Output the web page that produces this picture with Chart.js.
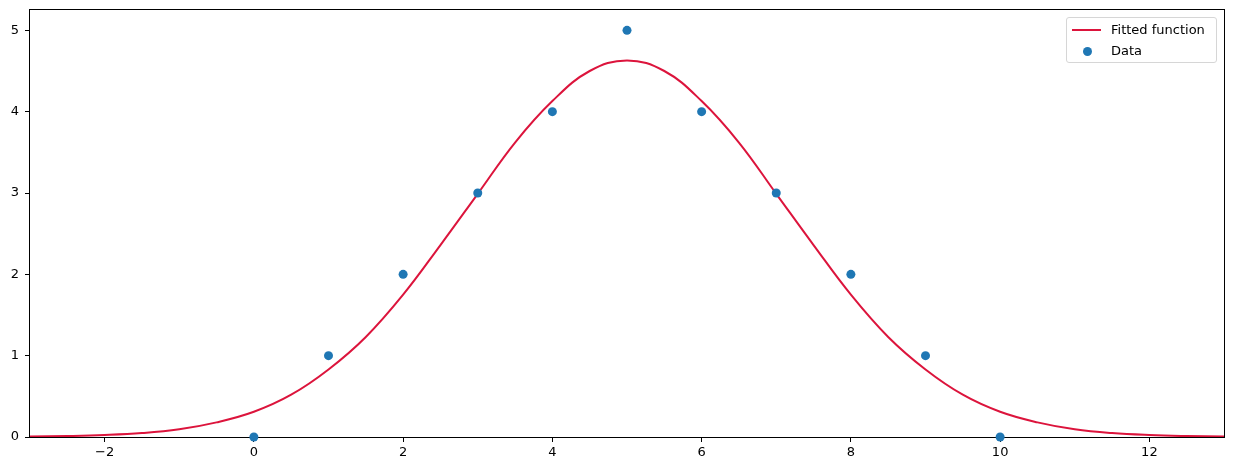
<!DOCTYPE html>
<html>
<head>
<meta charset="utf-8">
<title>Fitted function</title>
<script src="https://cdn.jsdelivr.net/npm/chart.js@4.4.1/dist/chart.umd.min.js"></script>
<style>
    html, body { margin: 0; padding: 0; background: #fff; }
    #wrap { position: relative; width: 1238px; height: 469px; }
    #legend {
        position: absolute; left: 1066px; top: 17px; width: 149px; height: 44px;
        border: 1px solid #d6d6d6; border-radius: 3px; background: rgba(255,255,255,0.8);
        font-family: "DejaVu Sans", sans-serif; font-size: 13px; color: #000;
    }
    .item { position: absolute; left: 0; height: 20px; line-height: 20px; }
    .item span { position: absolute; left: 44px; white-space: nowrap; }
    .swatch-line { position: absolute; left: 5px; top: 9px; width: 29px; height: 2px; }
    .swatch-dot { position: absolute; left: 16px; top: 6px; width: 9px; height: 9px; border-radius: 50%; }
</style>
</head>
<body>
<div id="wrap">
    <canvas id="fitChart" width="1238" height="469"></canvas>
    <div id="legend"></div>
</div>
<script>
// Observed data points
const dataX = [0, 1, 2, 3, 4, 5, 6, 7, 8, 9, 10];
const dataY = [0, 1, 2, 3, 4, 5, 4, 3, 2, 1, 0];

// Fitted curve, every half unit
const fitX = [-3, -2.5, -2, -1.5, -1, -0.5, 0, 0.5, 1, 1.5, 2, 2.5, 3, 3.5, 4, 4.5, 5,
              5.5, 6, 6.5, 7, 7.5, 8, 8.5, 9, 9.5, 10, 10.5, 11, 11.5, 12, 12.5, 13];
const fitY = [0.006, 0.012, 0.024, 0.048, 0.095, 0.18, 0.31, 0.52, 0.83, 1.23, 1.75, 2.36, 2.99, 3.62, 4.13, 4.5, 4.63,
              4.5, 4.13, 3.62, 2.99, 2.36, 1.75, 1.23, 0.83, 0.52, 0.31, 0.18, 0.095, 0.048, 0.024, 0.012, 0.006];

// Axis ticks
const xTicks = [-2, 0, 2, 4, 6, 8, 10, 12];
const yTicks = [0, 1, 2, 3, 4, 5];

const lineColor = '#dc143c';
const dotColor = '#1f77b4';
const tickFont = { family: 'DejaVu Sans', size: 13 };

function toPoints(xs, ys) {
    return xs.map((x, i) => ({ x: x, y: ys[i] }));
}

// Draw the full box around the plot area, like matplotlib spines
const framePlugin = {
    id: 'frame',
    beforeDatasetsDraw(chart) {
        const a = chart.chartArea;
        const ctx = chart.ctx;
        ctx.save();
        ctx.strokeStyle = '#000';
        ctx.lineWidth = 1;
        ctx.strokeRect(Math.round(a.left) - 0.5, Math.round(a.top) - 0.5,
                       Math.round(a.right - a.left) + 1, Math.round(a.bottom - a.top) + 1);
        ctx.restore();
    }
};

const minus = v => String(v).replace('-', '\u2212');

// Keep the plot area where the reference has it
function noPad(s) {
    s.paddingTop = 0;
    s.paddingBottom = 0;
    s.paddingLeft = 0;
    s.paddingRight = 0;
}

const chart = new Chart(document.getElementById('fitChart'), {
    type: 'scatter',
    data: {
        datasets: [
            {
                label: 'Fitted function',
                type: 'line',
                data: toPoints(fitX, fitY),
                borderColor: lineColor,
                borderWidth: 2,
                pointRadius: 0,
                fill: false,
                tension: 0.4,
                order: 2
            },
            {
                label: 'Data',
                data: toPoints(dataX, dataY),
                backgroundColor: dotColor,
                borderColor: dotColor,
                pointRadius: 4.5,
                borderWidth: 0,
                clip: false,
                order: 1
            }
        ]
    },
    options: {
        responsive: false,
        animation: false,
        layout: { padding: { top: 10, right: 14, left: 0, bottom: 0 } },
        plugins: {
            legend: { display: false },
            tooltip: { enabled: false }
        },
        scales: {
            x: {
                type: 'linear',
                min: -3,
                max: 13,
                afterBuildTicks: s => { s.ticks = xTicks.map(v => ({ value: v })); },
                afterFit: s => { s.height = 32; noPad(s); },
                border: { display: false },
                grid: { drawOnChartArea: false, tickLength: 5, color: '#000', tickColor: '#000' },
                ticks: { color: '#000', font: tickFont, padding: 3, maxRotation: 0, callback: v => minus(v) }
            },
            y: {
                type: 'linear',
                min: 0,
                max: 5.25,
                afterBuildTicks: s => { s.ticks = yTicks.map(v => ({ value: v })); },
                afterFit: s => { s.width = 30; noPad(s); },
                border: { display: false },
                grid: { drawOnChartArea: false, tickLength: 5, color: '#000', tickColor: '#000' },
                ticks: { color: '#000', font: tickFont, padding: 6, callback: v => minus(v) }
            }
        }
    },
    plugins: [framePlugin]
});

// HTML legend built from the datasets
const legend = document.getElementById('legend');
chart.data.datasets.forEach((ds, i) => {
    const item = document.createElement('div');
    item.className = 'item';
    item.style.top = (2 + i * 21) + 'px';
    const sw = document.createElement('div');
    if (ds.type === 'line') {
        sw.className = 'swatch-line';
        sw.style.background = ds.borderColor;
    } else {
        sw.className = 'swatch-dot';
        sw.style.background = ds.backgroundColor;
    }
    const label = document.createElement('span');
    label.textContent = ds.label;
    item.appendChild(sw);
    item.appendChild(label);
    legend.appendChild(item);
});
</script>
</body>
</html>
